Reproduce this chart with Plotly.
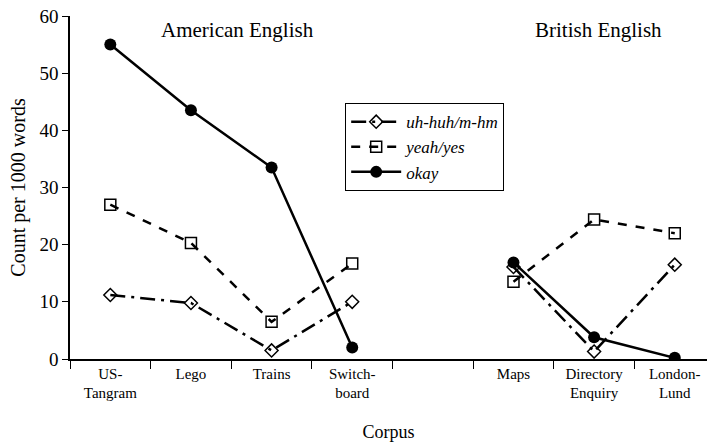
import plotly.graph_objects as go

categories = ["US-<br>Tangram", "Lego", "Trains", "Switch-<br>board", " ", "Maps", "Directory<br>Enquiry", "London-<br>Lund"]
uh_huh = [11.2, 9.8, 1.5, 10.0, None, 16.1, 1.3, 16.5]
yeah_yes = [27.0, 20.3, 6.5, 16.7, None, 13.5, 24.4, 22.0]
okay = [55.0, 43.5, 33.5, 2.0, None, 16.9, 3.8, 0.2]

font_family = "Liberation Serif, Times New Roman, serif"

fig = go.Figure()
fig.add_trace(go.Scatter(
    x=categories, y=uh_huh, name="uh-huh/m-hm", mode="lines+markers",
    line=dict(color="black", width=2.5, dash="longdashdot"),
    marker=dict(symbol="diamond-open", size=10, color="black", line=dict(width=1.5)),
    connectgaps=False))
fig.add_trace(go.Scatter(
    x=categories, y=yeah_yes, name="yeah/yes", mode="lines+markers",
    line=dict(color="black", width=2.5, dash="dash"),
    marker=dict(symbol="square-open", size=11, color="black", line=dict(width=1.5)),
    connectgaps=False))
fig.add_trace(go.Scatter(
    x=categories, y=okay, name="okay", mode="lines+markers",
    line=dict(color="black", width=2.5),
    marker=dict(symbol="circle", size=12, color="black"),
    connectgaps=False))

fig.update_layout(
    width=707, height=442,
    margin=dict(l=70, r=0, t=16, b=83, autoexpand=False),
    paper_bgcolor="white", plot_bgcolor="white",
    font=dict(family=font_family, color="black", size=15),
    showlegend=True,
    legend=dict(x=0.432, y=0.746, xanchor="left", yanchor="top",
                bordercolor="black", borderwidth=1, bgcolor="white",
                font=dict(size=17, family=font_family, style="italic"), tracegroupgap=0,
                itemwidth=50),
    annotations=[
        dict(text="American English", x=1.58, y=0.959, xref="x", yref="paper",
             showarrow=False, yanchor="middle", font=dict(size=21, family=font_family)),
        dict(text="British English", x=6.05, y=0.959, xref="x", yref="paper",
             showarrow=False, yanchor="middle", font=dict(size=21, family=font_family)),
    ],
)
fig.update_xaxes(
    type="category", categoryorder="array", categoryarray=categories,
    range=[-0.5, 7.4], showline=True, linecolor="black", linewidth=1.5,
    ticks="outside", tickson="boundaries", ticklen=8, tickcolor="black",
    showgrid=False, zeroline=False, automargin=False,
    title=dict(text="Corpus", font=dict(size=18, family=font_family), standoff=25),
    tickfont=dict(size=15, family=font_family),
)
fig.update_yaxes(
    range=[0, 60], dtick=10, showline=True, linecolor="black", linewidth=1.5,
    ticks="outside", ticklen=6, tickcolor="black", showgrid=False, zeroline=False,
    automargin=False, ticklabeloverflow="allow",
    title=dict(text="Count per 1000 words", font=dict(size=20, family=font_family), standoff=8),
    tickfont=dict(size=19, family=font_family),
)

fig.write_html("out.html", config={"displayModeBar": False},
               post_script="document.body.style.margin='0';")
